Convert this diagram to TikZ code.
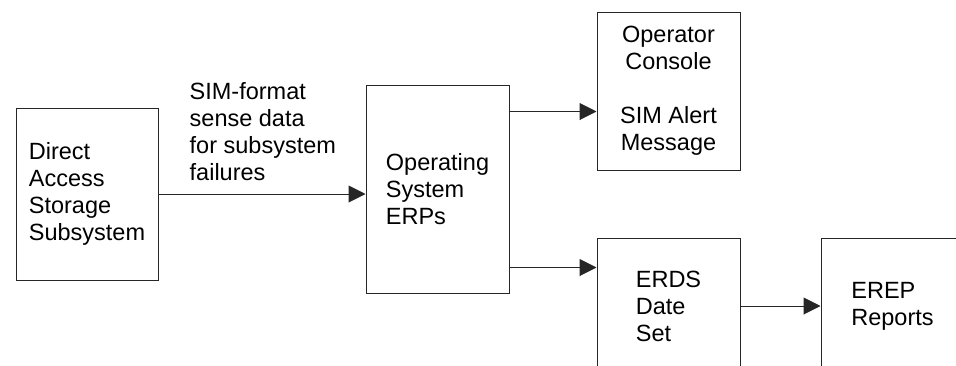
\documentclass[tikz,border=0pt]{standalone}
\usepackage{fontspec}
\setmainfont{Liberation Sans}
\usetikzlibrary{positioning,calc,arrows.meta}

\tikzset{
    blk/.style={draw=black!85, line width=1pt, minimum width=143pt, inner sep=0pt,
        align=left, font=\fontsize{23.5}{27}\selectfont},
    arr/.style={-{Triangle[length=17pt,width=17pt]}, line width=1pt, draw=black!85},
    lbl/.style={inner sep=0pt, align=left, font=\fontsize{23.5}{27}\selectfont}
}

\begin{document}
\begin{tikzpicture}[x=1pt,y=-1pt]
    \path[use as bounding box, clip] (0,0) rectangle (956,365);
    \node[blk, minimum width=142pt, minimum height=172pt] (dass) at (87,194) {Direct\\Access\\Storage\\Subsystem};
    \node[blk, minimum height=208pt] (os) at (437.5,189) {Operating\\System\\ERPs};
    \node[blk, minimum height=158pt, align=center] (op) at (668.5,91) {Operator\\Console\\[27pt]SIM Alert\\Message};
    \node[blk, minimum height=136pt] (erds) at (668.5,306) {ERDS\\Date\\Set};
    \node[blk, minimum height=136pt] (erep) at (892.5,306) {EREP\\Reports};
    % flows out of the ERPs
    \coordinate (os-up) at ([yshift=-27pt]os.north east);
    \coordinate (os-dn) at ([yshift=26pt]os.south east);
    \draw[arr] (dass.east) -- (dass.east -| os.west);
    \node[lbl, anchor=south west] (sense) at ([xshift=31pt,yshift=13pt]dass.east) {SIM-format\\sense data\\for subsystem\\failures};
    \draw[arr] (os-up) -- (os-up -| op.west);
    \draw[arr] (os-dn) -- (os-dn -| erds.west);
    \draw[arr] (erds.east) -- (erep.west);
\end{tikzpicture}
\end{document}
